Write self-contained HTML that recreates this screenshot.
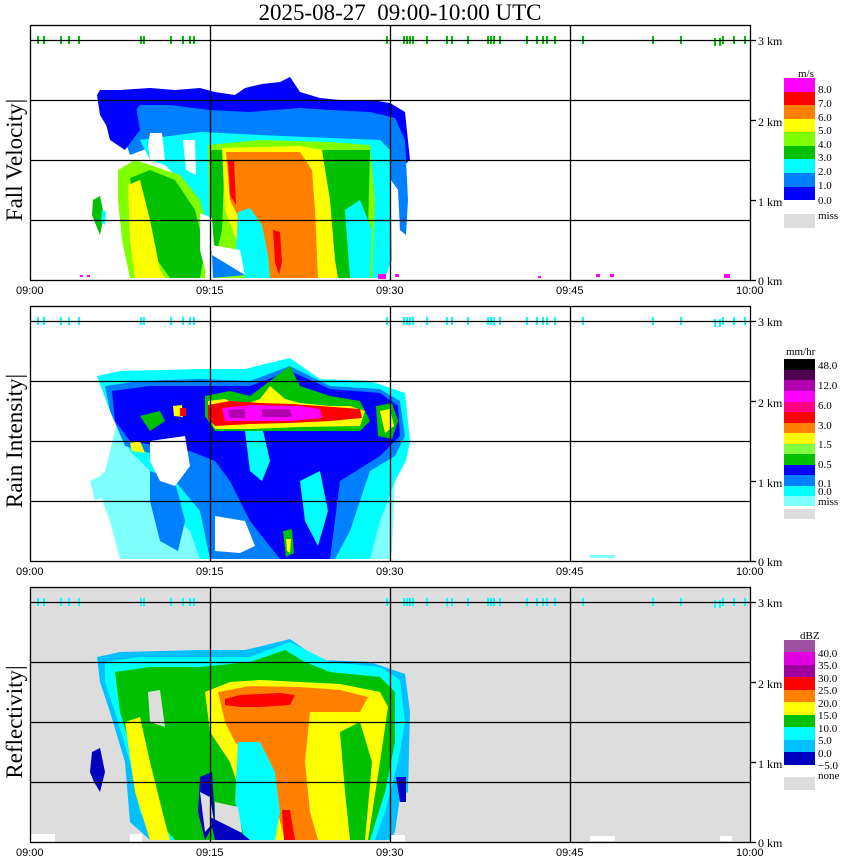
<!DOCTYPE html>
<html><head><meta charset="utf-8"><style>
html,body{margin:0;padding:0;background:#fff;}
svg{display:block;}
text{font-family:"Liberation Serif",serif;}
.t{font-family:"Liberation Sans",sans-serif;font-size:11px;}
.k{font-size:12px;}
.l{font-size:11px;}
</style></head><body>
<svg width="850" height="868" viewBox="0 0 850 868" xmlns="http://www.w3.org/2000/svg">
<defs>
<g id="ticks">
<g stroke-width="2">
<line x1="38" y1="36" x2="38" y2="44"/><line x1="44" y1="36" x2="44" y2="44"/><line x1="61" y1="36" x2="61" y2="44"/><line x1="69" y1="36" x2="69" y2="44"/><line x1="79" y1="36" x2="79" y2="44"/><line x1="141" y1="36" x2="141" y2="44"/><line x1="144" y1="36" x2="144" y2="44"/><line x1="171" y1="36" x2="171" y2="44"/><line x1="183" y1="36" x2="183" y2="44"/><line x1="190" y1="36" x2="190" y2="44"/><line x1="194" y1="36" x2="194" y2="44"/>
<line x1="387" y1="36" x2="387" y2="44"/><line x1="404" y1="36" x2="404" y2="44"/><line x1="407" y1="36" x2="407" y2="44"/><line x1="410" y1="36" x2="410" y2="44"/><line x1="413" y1="36" x2="413" y2="44"/><line x1="427" y1="36" x2="427" y2="44"/><line x1="447" y1="36" x2="447" y2="44"/><line x1="452" y1="36" x2="452" y2="44"/><line x1="468" y1="36" x2="468" y2="44"/><line x1="488" y1="36" x2="488" y2="44"/><line x1="491" y1="36" x2="491" y2="44"/><line x1="494" y1="36" x2="494" y2="44"/><line x1="500" y1="36" x2="500" y2="44"/><line x1="527" y1="36" x2="527" y2="44"/><line x1="537" y1="36" x2="537" y2="44"/><line x1="543" y1="36" x2="543" y2="44"/><line x1="547" y1="36" x2="547" y2="44"/><line x1="555" y1="36" x2="555" y2="44"/><line x1="583" y1="36" x2="583" y2="44"/><line x1="653" y1="36" x2="653" y2="44"/><line x1="681" y1="36" x2="681" y2="44"/><line x1="715" y1="38" x2="715" y2="46"/><line x1="720" y1="38" x2="720" y2="46"/><line x1="723" y1="36" x2="723" y2="44"/><line x1="734" y1="36" x2="734" y2="44"/><line x1="745" y1="36" x2="745" y2="44"/>
</g></g>
<g id="frame" fill="none" stroke="#000" stroke-width="1.3">
<rect x="30.5" y="25.5" width="720" height="255"/>
<line x1="30" y1="40.5" x2="750" y2="40.5"/><line x1="30" y1="100.5" x2="750" y2="100.5"/><line x1="30" y1="160.5" x2="750" y2="160.5"/><line x1="30" y1="220.5" x2="750" y2="220.5"/>
<line x1="210.5" y1="25" x2="210.5" y2="280"/><line x1="390.5" y1="25" x2="390.5" y2="280"/><line x1="570.5" y1="25" x2="570.5" y2="280"/>
<line x1="750" y1="40.5" x2="756" y2="40.5"/><line x1="750" y1="120.5" x2="756" y2="120.5"/><line x1="750" y1="200.5" x2="756" y2="200.5"/><line x1="750" y1="280.5" x2="756" y2="280.5"/>
</g>
<g id="axlab">
<text class="k" x="758" y="45">3 km</text><text class="k" x="758" y="126">2 km</text><text class="k" x="758" y="206">1 km</text><text class="k" x="758" y="285">0 km</text>
<text class="t" x="16" y="294">09:00</text><text class="t" x="196" y="294">09:15</text><text class="t" x="376" y="294">09:30</text><text class="t" x="556" y="294">09:45</text><text class="t" x="736" y="294">10:00</text>
</g>
</defs>

<text x="400" y="20" text-anchor="middle" style="font-size:23px">2025-08-27&#160;&#160;09:00-10:00 UTC</text>

<!-- PANEL 1 -->
<g>
<polygon fill="#0000ff" points="97,95 100,90 120,90 150,88 175,90 200,88 215,92 235,95 245,88 262,84 280,82 290,77 300,92 320,98 340,100 370,100 390,103 405,112 410,160 404,165 395,150 370,140 300,135 220,135 140,145 115,140 100,115"/>
<polygon fill="#0080ff" points="130,118 140,105 170,105 210,110 250,112 300,108 330,110 370,112 395,118 405,140 408,200 406,235 400,230 398,190 370,150 300,140 220,140 170,140 130,155 125,140"/>
<polygon fill="#0000ff" points="100,100 135,100 140,130 125,150 110,140"/>
<polygon fill="#00ffff" points="140,140 200,132 260,135 330,138 380,140 390,150 392,260 385,278 360,278 250,278 230,278 215,260 210,230 200,210 180,180 165,165 150,160"/>
<polygon fill="#80ff00" points="118,170 135,160 150,165 180,175 200,200 208,230 205,278 130,278 122,240 118,200"/>
<polygon fill="#00c000" points="130,178 150,170 175,180 195,210 205,250 200,278 170,278 150,250 135,210"/>
<polygon fill="#ffff00" points="128,185 140,180 150,220 160,270 165,278 135,278 130,240"/>
<polygon fill="#80ff00" points="208,145 260,140 330,142 370,145 375,200 372,278 345,278 330,278 215,278 210,240"/>
<polygon fill="#00c000" points="210,150 225,150 222,230 215,260 212,270"/>
<polygon fill="#00c000" points="320,150 370,150 368,230 360,278 330,278 325,220"/>
<polygon fill="#ffff00" points="222,148 300,146 322,150 330,200 335,260 338,278 255,278 240,250 225,210"/>
<polygon fill="#ff8000" points="226,152 300,152 312,170 315,210 318,278 265,278 255,240 240,220 230,200"/>
<polygon fill="#ff0000" points="228,160 234,160 236,205 230,195"/>
<polygon fill="#ff0000" points="273,230 280,232 282,262 279,275 275,262"/>
<polygon fill="#00ffff" points="238,212 250,208 262,225 268,255 270,278 245,278 236,250"/>
<polygon fill="#00ffff" points="345,210 360,200 372,230 370,278 350,278"/>
<polygon fill="#ffffff" points="150,133 162,133 165,160 150,160 148,145"/>
<polygon fill="#ffffff" points="200,213 212,218 214,245 205,270 200,250"/>
<polygon fill="#ffffff" points="212,245 240,250 245,275 212,275"/>
<polygon fill="#ffffff" points="183,140 195,140 196,175 186,170"/>
<polygon fill="#0080ff" points="212,255 245,275 213,278"/>
<polygon fill="#00c000" points="93,200 100,196 104,215 100,235 96,225 92,215"/>
<polygon fill="#00ffff" points="102,210 106,212 105,225 101,222"/>
<rect x="80" y="275" width="3" height="2" fill="#ff00ff"/><rect x="87" y="275" width="3" height="2" fill="#ff00ff"/>
<rect x="378" y="274" width="8" height="5" fill="#ff00ff"/><rect x="395" y="274" width="4" height="3" fill="#ff00ff"/>
<rect x="538" y="276" width="3" height="2" fill="#ff00ff"/><rect x="596" y="274" width="4" height="3" fill="#ff00ff"/><rect x="610" y="274" width="4" height="3" fill="#ff00ff"/><rect x="724" y="274" width="6" height="4" fill="#ff00ff"/>
<use href="#ticks" stroke="#00c000"/>
<use href="#frame"/><use href="#axlab"/>
<text transform="translate(22,160) rotate(-90)" text-anchor="middle" style="font-size:23px">Fall Velocity|</text>
<text class="l" x="798" y="77">m/s</text>
<rect x="784" y="78" width="31" height="14" fill="#ff00ff"/><rect x="784" y="92" width="31" height="13" fill="#ff0000"/><rect x="784" y="105" width="31" height="14" fill="#ff8000"/><rect x="784" y="119" width="31" height="13" fill="#ffff00"/><rect x="784" y="132" width="31" height="14" fill="#80ff00"/><rect x="784" y="146" width="31" height="13" fill="#00c000"/><rect x="784" y="159" width="31" height="14" fill="#00ffff"/><rect x="784" y="173" width="31" height="14" fill="#0080ff"/><rect x="784" y="187" width="31" height="13" fill="#0000ff"/>
<rect x="784" y="214" width="31" height="14" fill="#dddddd"/>
<g class="l"><text x="818" y="93">8.0</text><text x="818" y="107">7.0</text><text x="818" y="121">6.0</text><text x="818" y="134">5.0</text><text x="818" y="148">4.0</text><text x="818" y="161">3.0</text><text x="818" y="175">2.0</text><text x="818" y="189">1.0</text><text x="818" y="204">0.0</text><text x="818" y="219">miss</text></g>
</g>

<!-- PANEL 2 -->
<g transform="translate(0,281)">
<polygon fill="#80ffff" points="95,200 105,190 120,130 180,120 300,125 390,130 395,200 392,270 390,278 120,278 110,240"/>
<polygon fill="#00ffff" points="97,95 120,90 200,88 245,88 290,77 320,98 370,100 405,112 410,160 406,180 395,200 380,240 370,278 200,278 190,250 170,230 150,190 130,170 110,130"/>
<polygon fill="#0080ff" points="105,105 140,100 200,98 250,100 290,85 330,105 380,108 400,120 405,155 395,175 370,190 350,250 335,278 210,278 200,230 175,200 160,175 125,165 110,130"/>
<polygon fill="#0000ff" points="112,110 150,105 200,105 250,105 290,90 330,108 380,112 398,125 400,155 380,175 340,200 330,278 280,278 250,240 230,200 215,180 190,170 160,165 130,160 115,140"/>
<polygon fill="#00ffff" points="245,150 262,145 270,180 262,200 250,190"/>
<polygon fill="#00ffff" points="300,200 320,190 328,230 318,265 305,240"/>
<polygon fill="#0080ff" points="150,190 175,200 185,240 178,270 160,260 150,220"/>
<polygon fill="#ffffff" points="150,160 185,155 190,185 175,205 160,200 150,180"/>
<polygon fill="#ffffff" points="215,235 245,240 255,265 240,272 215,270"/>
<polygon fill="#00c000" points="205,115 230,110 250,115 270,100 290,85 300,105 330,115 360,120 370,140 360,150 300,150 250,150 215,150 205,135"/>
<polygon fill="#ffff00" points="208,120 225,118 240,125 260,118 270,105 285,118 300,122 330,125 350,125 365,130 360,145 300,146 250,148 215,148 208,135"/>
<polygon fill="#ff0000" points="208,124 230,120 260,122 290,123 320,125 360,128 362,137 330,140 290,142 250,143 215,145 208,138"/>
<polygon fill="#ff00ff" points="222,127 250,124 300,125 320,128 322,137 290,140 250,140 225,140"/>
<polygon fill="#b000b0" points="228,129 245,128 245,137 230,137"/><polygon fill="#b000b0" points="262,128 290,128 292,136 262,136"/>
<polygon fill="#00c000" points="376,125 392,122 398,140 392,158 378,155"/><polygon fill="#ffff00" points="380,130 390,128 394,145 385,152"/>
<polygon fill="#00c000" points="140,135 160,130 165,140 150,150"/><polygon fill="#ffff00" points="173,125 182,124 183,136 174,135"/><polygon fill="#ff0000" points="180,127 186,127 186,135 180,135"/>
<polygon fill="#ffff00" points="130,162 140,160 145,172 132,170"/>
<polygon fill="#00c000" points="283,250 292,248 294,272 286,276"/><polygon fill="#ffff00" points="286,258 291,258 290,272 287,270"/>
<polygon fill="#80ffff" points="90,200 100,195 105,215 95,220"/>
<rect x="590" y="274" width="25" height="3" fill="#80ffff"/>
<use href="#ticks" stroke="#00ffff"/>
<use href="#frame"/><use href="#axlab"/>
<text transform="translate(22,160) rotate(-90)" text-anchor="middle" style="font-size:23px">Rain Intensity|</text>
<text class="l" x="786" y="74">mm/hr</text>
<rect x="784" y="78" width="31" height="11" fill="#000000"/><rect x="784" y="89" width="31" height="10" fill="#500050"/><rect x="784" y="99" width="31" height="11" fill="#b000b0"/><rect x="784" y="110" width="31" height="11" fill="#ff00ff"/><rect x="784" y="121" width="31" height="10" fill="#ff0080"/><rect x="784" y="131" width="31" height="11" fill="#ff0000"/><rect x="784" y="142" width="31" height="10" fill="#ff8000"/><rect x="784" y="152" width="31" height="11" fill="#ffff00"/><rect x="784" y="163" width="31" height="10" fill="#80ff40"/><rect x="784" y="173" width="31" height="11" fill="#00c000"/><rect x="784" y="184" width="31" height="10" fill="#0000ff"/><rect x="784" y="194" width="31" height="11" fill="#0080ff"/><rect x="784" y="205" width="31" height="10" fill="#00ffff"/><rect x="784" y="215" width="31" height="10" fill="#80ffff"/>
<rect x="784" y="228" width="31" height="10" fill="#dddddd"/>
<g class="l"><text x="818" y="88">48.0</text><text x="818" y="108">12.0</text><text x="818" y="128">6.0</text><text x="818" y="148">3.0</text><text x="818" y="167">1.5</text><text x="818" y="187">0.5</text><text x="818" y="206">0.1</text><text x="818" y="214">0.0</text><text x="818" y="224">miss</text></g>
</g>

<!-- PANEL 3 -->
<g transform="translate(0,562)">
<rect x="30" y="25" width="720" height="255" fill="#dddddd"/>
<polygon fill="#00c0ff" points="97,95 120,90 200,88 245,88 262,84 290,77 320,98 370,100 405,112 410,150 408,230 400,235 395,270 390,278 150,278 130,260 125,200 110,150 100,120"/>
<polygon fill="#00ffff" points="105,100 140,95 200,95 250,95 290,80 330,100 380,105 400,118 405,160 398,200 385,250 375,278 160,278 140,250 130,200 115,150 105,120"/>
<polygon fill="#00c000" points="115,110 150,105 200,105 250,100 285,88 305,100 330,110 380,115 395,130 395,180 385,230 370,278 175,278 150,250 135,200 120,150"/>
<polygon fill="#ffff00" points="125,160 140,155 150,200 165,260 170,278 150,278 135,230"/>
<polygon fill="#ffff00" points="205,130 230,120 260,118 300,120 340,122 380,130 388,145 380,200 368,278 255,278 240,230 230,200 210,170"/>
<polygon fill="#00c000" points="340,170 360,160 372,200 365,278 350,278 345,230"/>
<polygon fill="#ff8000" points="218,130 250,124 300,125 340,128 368,135 360,150 310,150 305,200 310,250 318,278 285,278 275,240 255,200 235,180 225,160"/>
<polygon fill="#ff0000" points="225,137 240,133 260,132 280,131 295,133 290,143 260,145 240,145 225,143"/>
<polygon fill="#ff0000" points="282,248 290,248 295,278 284,278"/>
<polygon fill="#00ffff" points="238,180 260,180 275,210 280,250 275,278 245,278 235,240"/>
<polygon fill="#0000c0" points="200,215 212,210 215,260 205,278 198,250"/>
<polygon fill="#dddddd" points="148,130 160,128 165,165 150,160"/>
<polygon fill="#dddddd" points="200,230 210,235 214,260 205,270"/>
<polygon fill="#dddddd" points="215,240 238,245 242,270 215,272"/>
<polygon fill="#0000c0" points="210,255 240,270 250,278 215,278"/>
<polygon fill="#0000c0" points="92,190 100,186 105,210 100,230 94,220 90,210"/>
<polygon fill="#0000c0" points="396,215 406,215 406,240 400,240"/>
<rect x="30" y="272" width="25" height="8" fill="#ffffff"/><rect x="130" y="272" width="12" height="8" fill="#ffffff"/><rect x="390" y="273" width="15" height="7" fill="#ffffff"/><rect x="590" y="274" width="25" height="5" fill="#ffffff"/><rect x="720" y="274" width="12" height="5" fill="#ffffff"/>
<use href="#ticks" stroke="#00ffff"/>
<use href="#frame"/><use href="#axlab"/>
<text transform="translate(22,160) rotate(-90)" text-anchor="middle" style="font-size:23px">Reflectivity|</text>
<text class="l" x="800" y="77">dBZ</text>
<rect x="784" y="78" width="31" height="12" fill="#a050a0"/><rect x="784" y="90" width="31" height="13" fill="#e000e0"/><rect x="784" y="103" width="31" height="12" fill="#a000a0"/><rect x="784" y="115" width="31" height="13" fill="#ff0000"/><rect x="784" y="128" width="31" height="12" fill="#ff8000"/><rect x="784" y="140" width="31" height="13" fill="#ffff00"/><rect x="784" y="153" width="31" height="12" fill="#00c000"/><rect x="784" y="165" width="31" height="13" fill="#00ffff"/><rect x="784" y="178" width="31" height="12" fill="#00c0ff"/><rect x="784" y="190" width="31" height="13" fill="#0000c0"/>
<rect x="784" y="215" width="31" height="13" fill="#dddddd"/>
<g class="l"><text x="818" y="95">40.0</text><text x="818" y="107">35.0</text><text x="818" y="120">30.0</text><text x="818" y="132">25.0</text><text x="818" y="145">20.0</text><text x="818" y="157">15.0</text><text x="818" y="170">10.0</text><text x="818" y="182">5.0</text><text x="818" y="195">0.0</text><text x="818" y="207">−5.0</text><text x="818" y="217">none</text></g>
</g>
</svg>
</body></html>
